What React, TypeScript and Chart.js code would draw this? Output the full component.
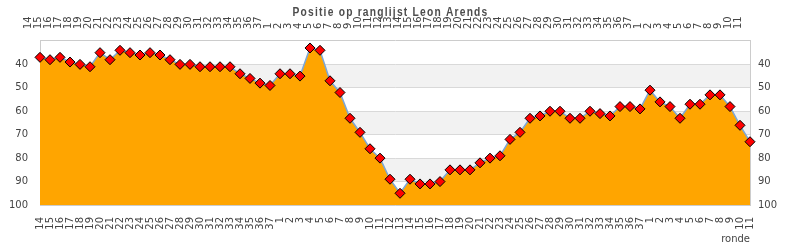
import React, { useEffect, useRef } from "react";
import { Chart, registerables } from "chart.js";

Chart.register(...registerables);

const chartTitle = "Positie op ranglijst Leon Arends";
const xAxisTitle = "ronde";

const rounds: string[] = [
  "14", "15", "16", "17", "18", "19", "20", "21", "22", "23", "24", "25",
  "26", "27", "28", "29", "30", "31", "32", "33", "34", "35", "36", "37",
  "1", "2", "3", "4", "5", "6", "7", "8", "9", "10", "11", "12", "13",
  "14", "15", "16", "17", "18", "19", "20", "21", "22", "23", "24", "25",
  "26", "27", "28", "29", "30", "31", "32", "33", "34", "35", "36", "37",
  "1", "2", "3", "4", "5", "6", "7", "8", "9", "10", "11",
];

const positions: number[] = [
  37, 38, 37, 39, 40, 41, 35, 38, 34, 35, 36, 35,
  36, 38, 40, 40, 41, 41, 41, 41, 44, 46, 48, 49,
  44, 44, 45, 33, 34, 47, 52, 63, 69, 76, 80, 89, 95,
  89, 91, 91, 90, 85, 85, 85, 82, 80, 79, 72, 69,
  63, 62, 60, 60, 63, 63, 60, 61, 62, 58, 58, 59,
  51, 56, 58, 63, 57, 57, 53, 53, 58, 66, 73,
];

const yTickValues: number[] = [40, 50, 60, 70, 80, 90, 100];
const bandRanges: [number, number][] = [
  [40, 50],
  [60, 70],
  [80, 90],
];
const yMin = 29.6;
const yMax = 100;

const FONT = "'DejaVu Sans', sans-serif";

const bandsPlugin = {
  id: "bands",
  beforeDraw(chart: any) {
    const { ctx, chartArea } = chart;
    const y = chart.scales.y;
    ctx.save();
    ctx.fillStyle = "#f2f2f2";
    for (const [a, b] of bandRanges) {
      const p1 = y.getPixelForValue(a);
      const p2 = y.getPixelForValue(b);
      ctx.fillRect(chartArea.left, Math.min(p1, p2), chartArea.right - chartArea.left, Math.abs(p2 - p1));
    }
    ctx.restore();
  },
};

const titlePlugin = {
  id: "customTitle",
  afterDraw(chart: any) {
    const { ctx } = chart;
    ctx.save();
    ctx.font = "bold 13.5px 'Liberation Sans', Arial, sans-serif";
    ctx.fillStyle = "#4d4d4d";
    ctx.textBaseline = "alphabetic";
    ctx.textAlign = "left";
    (ctx as any).letterSpacing = "1.6px";
    const target = 196;
    const w = ctx.measureText(chartTitle).width;
    const sx = target / w;
    ctx.translate(390.5 - target / 2, 15.5);
    ctx.scale(sx, 1);
    ctx.fillText(chartTitle, 0, 0);
    ctx.restore();
  },
};

export default function App() {
  const canvasRef = useRef<HTMLCanvasElement | null>(null);

  useEffect(() => {
    const canvas = canvasRef.current;
    if (!canvas) return;
    const tickFont = { family: FONT, size: 10 };
    const setTicks = (scale: any) => {
      scale.ticks = yTickValues.map((v) => ({ value: v }));
    };
    const chart = new Chart(canvas, {
      type: "line",
      data: {
        labels: rounds,
        datasets: [
          {
            data: positions,
            xAxisID: "x",
            yAxisID: "y",
            borderColor: "#7ba7d8",
            borderWidth: 1.5,
            backgroundColor: "#ffa500",
            fill: { value: 100 } as any,
            tension: 0,
            pointStyle: "rectRot",
            pointRadius: 5,
            pointBackgroundColor: "#ff0000",
            pointBorderColor: "#000000",
            pointBorderWidth: 1,
            clip: false as any,
          },
        ],
      },
      options: {
        responsive: false,
        animation: false,
        events: [],
        layout: { padding: 0 },
        plugins: {
          legend: { display: false },
          title: { display: false },
          tooltip: { enabled: false },
        },
        scales: {
          x: {
            type: "category",
            position: "bottom",
            offset: false,
            grid: { display: false, drawTicks: false },
            border: { display: true, color: "#cccccc", width: 1 },
            ticks: {
              autoSkip: false,
              maxRotation: 90,
              minRotation: 90,
              padding: 12,
              font: tickFont,
              color: "#444444",
            },
            title: {
              display: true,
              text: xAxisTitle,
              align: "end",
              font: { family: FONT, size: 10 },
              color: "#444444",
              padding: { top: 0, bottom: 5 },
            },
            afterFit: (s: any) => {
              s.height = 45;
            },
          },
          x2: {
            type: "category",
            position: "top",
            offset: false,
            grid: { display: false, drawTicks: false },
            border: { display: true, color: "#cccccc", width: 1 },
            ticks: {
              autoSkip: false,
              maxRotation: 90,
              minRotation: 90,
              padding: 11,
              font: tickFont,
              color: "#444444",
            },
            afterFit: (s: any) => {
              s.height = 40;
            },
          },
          y: {
            type: "linear",
            position: "left",
            reverse: true,
            min: yMin,
            max: yMax,
            afterBuildTicks: setTicks,
            grid: { display: true, color: "#d9d9d9", lineWidth: 1, drawTicks: false },
            border: { display: true, color: "#cccccc", width: 1 },
            ticks: { padding: 12, font: tickFont, color: "#444444" },
            afterFit: (s: any) => {
              s.width = 40;
            },
          },
          y2: {
            type: "linear",
            position: "right",
            reverse: true,
            min: yMin,
            max: yMax,
            afterBuildTicks: setTicks,
            grid: { display: false, drawTicks: false },
            border: { display: true, color: "#cccccc", width: 1 },
            ticks: { padding: 8, font: tickFont, color: "#444444" },
            afterFit: (s: any) => {
              s.width = 40;
            },
          },
        },
      },
      plugins: [bandsPlugin, titlePlugin],
    } as any);
    return () => {
      chart.destroy();
    };
  }, []);

  return (
    <div
      style={{
        position: "fixed",
        left: 0,
        top: 0,
        width: 790,
        height: 250,
        background: "#ffffff",
      }}
    >
      <canvas ref={canvasRef} width={790} height={250} style={{ display: "block" }} />
    </div>
  );
}
